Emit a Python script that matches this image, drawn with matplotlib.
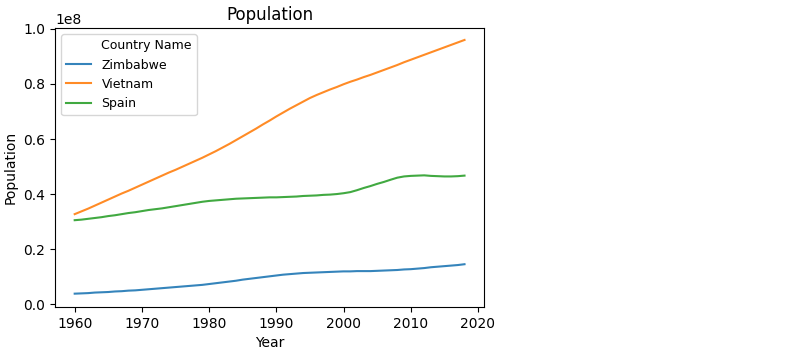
import matplotlib
matplotlib.use("Agg")
import matplotlib.pyplot as plt
from matplotlib.lines import Line2D
import numpy as np

years = list(range(1960, 2019))

zimbabwe = [3.8, 3.9, 4.0, 4.2, 4.3, 4.4, 4.6, 4.7, 4.9, 5.0,
            5.2, 5.4, 5.6, 5.8, 6.0, 6.2, 6.4, 6.6, 6.8, 7.0,
            7.3, 7.6, 7.9, 8.2, 8.5, 8.9, 9.2, 9.5, 9.8, 10.1,
            10.4, 10.7, 10.9, 11.1, 11.3, 11.4, 11.5, 11.6, 11.7, 11.8,
            11.9, 11.9, 12.0, 12.0, 12.0, 12.1, 12.2, 12.3, 12.4, 12.6,
            12.7, 12.9, 13.1, 13.4, 13.6, 13.8, 14.0, 14.2, 14.5]

vietnam = [32.7, 33.7, 34.7, 35.8, 36.9, 38.0, 39.1, 40.2, 41.2, 42.3,
           43.4, 44.5, 45.6, 46.7, 47.8, 48.8, 49.9, 51.0, 52.1, 53.2,
           54.4, 55.6, 56.9, 58.2, 59.6, 61.0, 62.4, 63.8, 65.3, 66.7,
           68.2, 69.6, 71.0, 72.3, 73.6, 74.9, 76.0, 77.0, 78.0, 78.9,
           79.9, 80.8, 81.6, 82.5, 83.3, 84.2, 85.1, 86.0, 86.9, 87.9,
           88.8, 89.7, 90.6, 91.5, 92.4, 93.3, 94.2, 95.1, 96.0]

spain = [30.5, 30.7, 31.0, 31.3, 31.6, 32.0, 32.3, 32.7, 33.1, 33.4,
         33.8, 34.2, 34.5, 34.8, 35.2, 35.6, 36.0, 36.4, 36.8, 37.2,
         37.5, 37.7, 37.9, 38.1, 38.3, 38.4, 38.5, 38.6, 38.7, 38.8,
         38.8, 38.9, 39.0, 39.1, 39.3, 39.4, 39.5, 39.7, 39.8, 40.0,
         40.3, 40.7, 41.4, 42.2, 42.9, 43.7, 44.4, 45.2, 45.95, 46.4,
         46.6, 46.7, 46.8, 46.6, 46.5, 46.4, 46.4, 46.5, 46.7]

countries = ["Zimbabwe", "Vietnam", "Spain"]
series = [zimbabwe, vietnam, spain]
colors = ["#1f77b4", "#ff7f0e", "#2ca02c"]

fig = plt.figure(figsize=(8, 3.56), dpi=100)
ax = fig.add_axes([0.069, 0.138, 0.536, 0.783])
handles = [Line2D([], [], linestyle="none", label="Country Name")]
for name, vals, c in zip(countries, series, colors):
    ln, = ax.plot(years, np.array(vals) * 1e6, color=c, lw=1.5, alpha=0.9, label=name)
    handles.append(ln)

ax.set_title("Population")
ax.set_xlabel("Year")
ax.set_ylabel("Population")
ax.set_xticks([1960, 1970, 1980, 1990, 2000, 2010, 2020])
ax.set_yticks([0, 0.2e8, 0.4e8, 0.6e8, 0.8e8, 1.0e8])
ax.set_ylim(-0.01e8, 1.003e8)
ax.legend(handles=handles, loc="upper left", fontsize=9)

fig.savefig("out.png", dpi=100)
